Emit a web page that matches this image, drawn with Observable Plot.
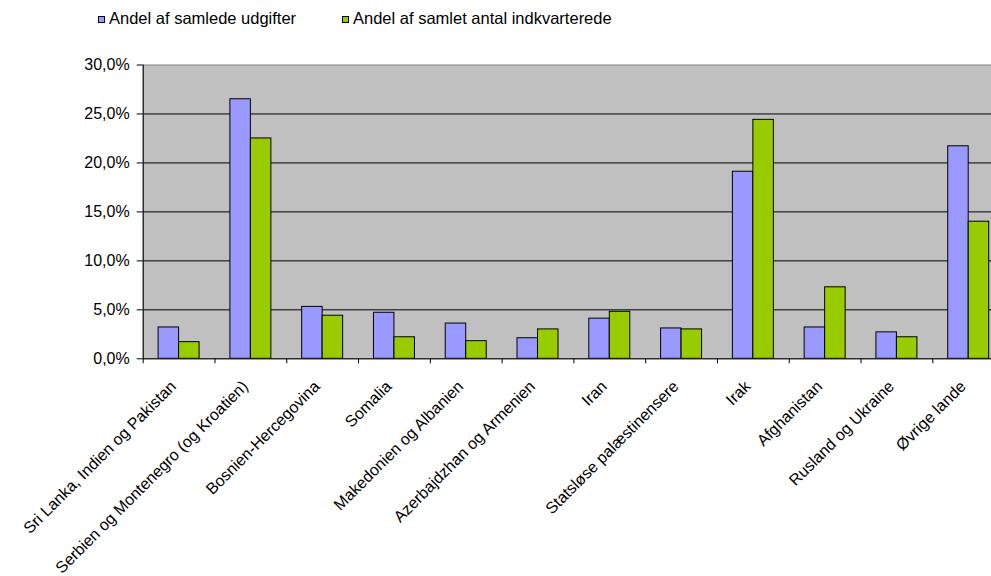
<!DOCTYPE html>
<html>
<head>
<meta charset="utf-8">
<script src="https://cdn.jsdelivr.net/npm/d3@7"></script>
<script src="https://cdn.jsdelivr.net/npm/@observablehq/plot@0.6"></script>
<style>
  body { margin: 0; background: #fff; overflow: hidden; font-family: "Liberation Sans", Arial, sans-serif; }
  #legend { position: relative; height: 40px; font-size: 16.5px; color: #000; }
  .key { position: absolute; top: 16px; width: 5px; height: 5px; border: 1px solid #000; }
  .lbl { position: absolute; top: 8.5px; line-height: 18px; white-space: nowrap; }
</style>
</head>
<body>
<div id="legend"></div>
<div id="chart"></div>
<script>
// Countries / groups along the x axis
const categories = [
  "Sri Lanka, Indien og Pakistan",
  "Serbien og Montenegro (og Kroatien)",
  "Bosnien-Hercegovina",
  "Somalia",
  "Makedonien og Albanien",
  "Azerbajdzhan og Armenien",
  "Iran",
  "Statsløse palæstinensere",
  "Irak",
  "Afghanistan",
  "Rusland og Ukraine",
  "Øvrige lande"
];

// Share of total expenses (%)
const udgifter = [3.2, 26.5, 5.3, 4.7, 3.6, 2.1, 4.1, 3.1, 19.1, 3.2, 2.7, 21.7];
// Share of total number of accommodated persons (%)
const indkvarterede = [1.7, 22.5, 4.4, 2.2, 1.8, 3.0, 4.8, 3.0, 24.4, 7.3, 2.2, 14.0];

const seriesNames = ["Andel af samlede udgifter", "Andel af samlet antal indkvarterede"];
const seriesColors = ["#9999FF", "#99CC00"];
const yTicks = [0, 5, 10, 15, 20, 25, 30];

// Legend above the chart: [key left, label left]
const legendX = [[98, 109], [341.5, 353]];
const legend = document.getElementById("legend");
seriesNames.forEach((name, i) => {
  const key = document.createElement("div");
  key.className = "key";
  key.style.left = legendX[i][0] + "px";
  key.style.background = seriesColors[i];
  legend.appendChild(key);
  const lbl = document.createElement("span");
  lbl.className = "lbl";
  lbl.style.left = legendX[i][1] + "px";
  lbl.textContent = name;
  legend.appendChild(lbl);
});

const rows = categories.map((category, index) => ({
  category,
  index,
  udgifter: udgifter[index],
  indkvarterede: indkvarterede[index]
}));

const pct = (v) => v.toFixed(1).replace(".", ",") + "%";

const chart = Plot.plot({
  width: 991,
  height: 536,
  marginTop: 24.5,
  marginBottom: 217.7,
  marginLeft: 142.7,
  marginRight: -13.1,
  x: { domain: [0, categories.length], axis: null },
  y: { domain: [0, 30], axis: null },
  style: {
    fontFamily: "'Liberation Sans', Arial, sans-serif",
    fontSize: "16px",
    color: "#000",
    background: "#fff"
  },
  marks: [
    Plot.frame({ fill: "#C0C0C0", stroke: null }),
    Plot.ruleY(yTicks.filter((v) => v > 0 && v < 30), { stroke: "#000", strokeWidth: 1 }),
    Plot.rectY(rows, {
      x1: "index", x2: (d) => d.index + 1, y: "udgifter",
      fill: seriesColors[0], stroke: "#000", strokeWidth: 1,
      insetLeft: 15.4, insetRight: 35.9
    }),
    Plot.rectY(rows, {
      x1: "index", x2: (d) => d.index + 1, y: "indkvarterede",
      fill: seriesColors[1], stroke: "#000", strokeWidth: 1,
      insetLeft: 35.9, insetRight: 15.4
    }),
    Plot.frame({ stroke: "#808080" }),
    Plot.ruleY([0], { stroke: "#000" }),
    Plot.ruleX([0], { stroke: "#000" }),
    Plot.axisY({
      ticks: yTicks, tickFormat: pct, tickSize: 6, tickPadding: 7.5,
      stroke: "#000", strokeOpacity: 1, fontSize: 16, label: null
    }),
    Plot.axisX({
      ticks: d3.range(categories.length + 1), tickFormat: () => "",
      tickSize: 5, stroke: "#000", strokeOpacity: 1, label: null
    }),
    Plot.text(rows, {
      x: (d) => d.index + 0.5, text: "category", frameAnchor: "bottom",
      rotate: -45, textAnchor: "end", lineAnchor: "top",
      dx: -10, dy: 20.5, fontSize: 16, fill: "#000"
    })
  ]
});

document.getElementById("chart").appendChild(chart);
</script>
</body>
</html>
